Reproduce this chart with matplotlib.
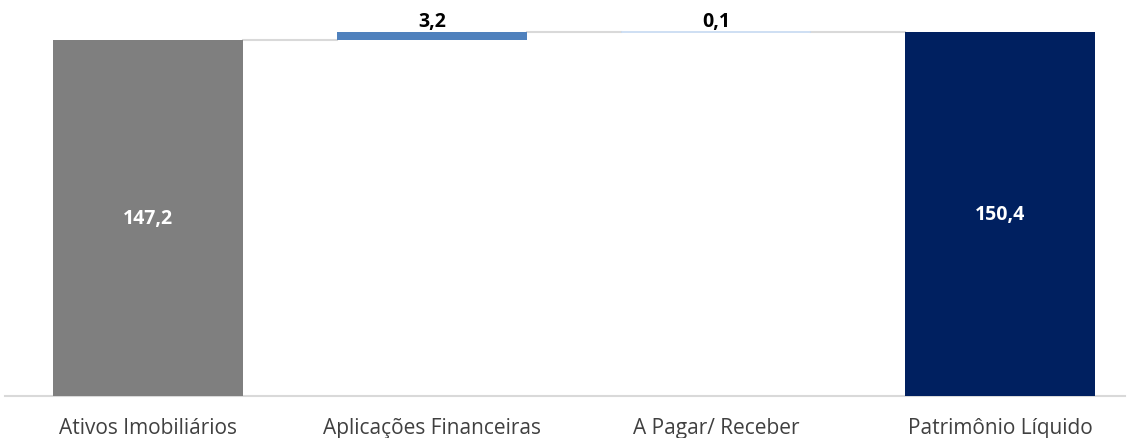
import matplotlib.pyplot as plt

categories = ["Ativos Imobiliários", "Aplicações Financeiras", "A Pagar/ Receber", "Patrimônio Líquido"]
values = [147.2, 3.2, 0.1, 150.4]
labels = ["147,2", "3,2", "0,1", "150,4"]
colors = ["#7F7F7F", "#4F81BD", "#C6D9F1", "#002060"]

plt.rcParams['font.family'] = ['Open Sans', 'DejaVu Sans']

fig = plt.figure(figsize=(11.32, 4.39), dpi=100)
ax = fig.add_axes([5 / 1132, 42 / 439, 1120 / 1132, 397 / 439])

# waterfall bottoms: first and last are totals
bottoms = [0, values[0], values[0] + values[1], 0]
x = list(range(len(categories)))
width = 0.67

ax.bar(x, values, width=width, bottom=bottoms, color=colors, zorder=3)
# the tiny middle step would vanish, so outline it
ax.bar(x[2], values[2], width=width, bottom=bottoms[2], color=colors[2],
       edgecolor=colors[2], linewidth=1.2, zorder=3)

# connector lines
tops = [b + v for b, v in zip(bottoms, values)]
for i in range(len(x) - 1):
    ax.plot([x[i] + width / 2, x[i + 1] - width / 2], [tops[i], tops[i]],
            color="#D9D9D9", lw=1.5, zorder=2)

# value labels
for i in range(len(x)):
    if i in (0, len(x) - 1):
        ax.text(x[i], values[i] / 2, labels[i], ha="center", va="center",
                color="white", fontsize=14, fontweight="bold")
    else:
        ax.text(x[i], tops[i] + 0.2, labels[i], ha="center", va="bottom",
                color="black", fontsize=14, fontweight="bold")

ax.set_xlim(-0.5035, 3.44)
ax.set_ylim(0, 164.0)
ax.set_xticks(x)
ax.set_xticklabels(categories, fontsize=15, color="#404040")
ax.tick_params(axis="x", length=0, pad=15)
ax.set_yticks([])
for s in ["top", "left", "right"]:
    ax.spines[s].set_visible(False)
ax.spines["bottom"].set_color("#D9D9D9")
ax.spines["bottom"].set_linewidth(1.5)

plt.savefig("out.png", dpi=100)
